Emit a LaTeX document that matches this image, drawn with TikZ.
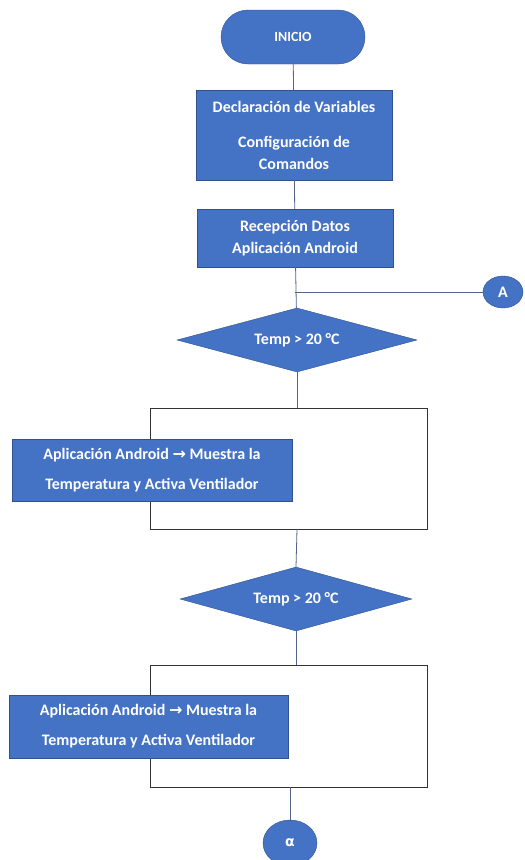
\documentclass[tikz,border=0pt]{standalone}
\usepackage{fontspec}
\setmainfont{Carlito}
\newfontfamily\flecha{DejaVu Sans}
\usetikzlibrary{shapes.geometric,calc}
\definecolor{azul}{RGB}{68,114,196}
\definecolor{borde}{RGB}{47,82,143}
\definecolor{linea}{RGB}{80,100,140}

\begin{document}
\begin{tikzpicture}[x=1pt, y=-1pt, font=\bfseries\fontsize{16}{22}\selectfont, % 座標はピクセル単位、yは下向き
  caja/.style={draw=borde, fill=azul, text=white, align=center, inner sep=0pt}, % 青い処理ボックス
  decision/.style={caja, diamond, aspect=3.75}, % 判断のひし形
  marco/.style={draw=black!80, thick, inner sep=0pt}, % 白い枠
  enlace/.style={caja, ellipse}, % 結合子
  linea/.style={draw=linea, thick}] % 接続線
  \useasboundingbox (0,0) rectangle (525,860); % 画像の大きさ

  \node[caja, rounded corners=27pt, minimum width=144pt, minimum height=54pt, font=\bfseries\fontsize{14}{16}\selectfont] (inicio) at (293,37) {INICIO}; % 開始
  \node[caja, minimum width=196pt, minimum height=90pt] (decl) at (294,135) {Declaración de Variables\\[13pt] Configuración de\\ Comandos}; % 宣言
  \node[caja, minimum width=196pt, minimum height=58pt] (recep) at (295,238) {Recepción Datos\\ Aplicación Android}; % 受信
  \node[enlace, minimum width=40pt, minimum height=32pt] (A) at (503,292) {A}; % 結合子A

  \node[decision, minimum width=240pt, minimum height=64pt] (dec1) at (297,340) {Temp > 20 °C}; % 判断1
  \node[marco, minimum width=277pt, minimum height=121pt] (marco1) at (288.5,468.5) {}; % 枠1
  \node[caja, minimum width=280pt, minimum height=62pt] (accion1) at (152,470) {Aplicación Android {\flecha\fontsize{16}{20}\selectfont →} Muestra la\\[8pt] Temperatura y Activa Ventilador}; % 動作1

  \node[decision, minimum width=232pt, minimum height=64pt] (dec2) at (296,599) {Temp > 20 °C}; % 判断2
  \node[marco, minimum width=277pt, minimum height=122pt] (marco2) at (288.5,726) {}; % 枠2
  \node[caja, minimum width=279pt, minimum height=63pt] (accion2) at (148.5,726.5) {Aplicación Android {\flecha\fontsize{16}{20}\selectfont →} Muestra la\\[8pt] Temperatura y Activa Ventilador}; % 動作2
  \node[enlace, minimum width=54pt, minimum height=46pt] (alfa) at (290,843) {{\flecha\fontsize{14}{16}\selectfont α}}; % 結合子α

  \coordinate (rama) at (recep.south |- A); % 分岐点
  \draw[linea] (inicio) -- (decl); % 接続線
  \draw[linea] (decl) -- (recep);
  \draw[linea] (recep) -- (dec1);
  \draw[linea] (rama) -- (A); % Aへ
  \draw[linea] (dec1.south) -- (dec1.south |- marco1.north);
  \draw[linea] (marco1.south -| dec1.south) -- (dec2.north);
  \draw[linea] (dec2.south) -- (dec2.south |- marco2.north);
  \draw[linea] (marco2.south -| alfa.north) -- (alfa.north);
\end{tikzpicture}
\end{document}
